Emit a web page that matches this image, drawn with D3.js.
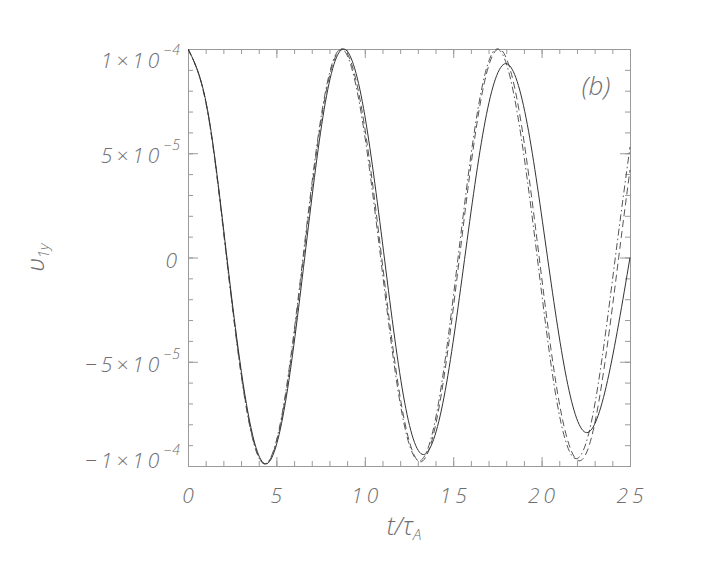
<!DOCTYPE html>
<html>
<head>
<meta charset="utf-8">
<script src="https://cdn.jsdelivr.net/npm/d3@7"></script>
<style>
  html, body { margin: 0; padding: 0; background: #fff; }
  svg { display: block; }
  .lbl { font-family: "Open Sans", "Roboto", "DejaVu Sans", sans-serif; font-style: italic; font-weight: 300; fill: #6e6e6e; }
</style>
</head>
<body>
<svg id="chart" width="708" height="566"></svg>
<script>
// ---- data (values in units of 1e-4) ----
const unit = 1e-4;
const xTicks = [0, 5, 10, 15, 20, 25];
const xTickLabels = ["0", "5", "10", "15", "20", "25"];
const yTicks = [1, 0.5, 0, -0.5, -1];
const yTickMain = ["1×10", "5×10", "0", "−5×10", "−1×10"];
const yTickExp = ["−4", "−5", "", "−5", "−4"];

// solid curve
const solidT = [0, 1.10, 2.20, 3.30, 4.40, 5.50, 6.60, 7.70, 8.80, 9.93, 11.06, 12.18, 13.31,
  14.48, 15.64, 16.81, 17.97, 19.12, 20.26, 21.41, 22.55, 23.73, 25.0];
const solidV = [1.0, 0.71, 0.0, -0.70, -0.99, -0.70, 0.0, 0.71, 1.0, 0.715, 0.03, -0.66, -0.945,
  -0.67, -0.01, 0.655, 0.93, 0.67, 0.045, -0.58, -0.84, -0.59, 0.0];

// dashed curve
const dashT = [0, 1.09, 2.18, 3.27, 4.36, 5.45, 6.54, 7.63, 8.72, 9.83, 10.94, 12.04, 13.15,
  14.26, 15.37, 16.47, 17.58, 18.715, 19.85, 20.985, 22.12, 23.24, 24.36, 25.0];
const dashV = [1.0, 0.71, 0.005, -0.70, -0.99, -0.70, 0.005, 0.71, 1.0, 0.71, 0.01, -0.69, -0.98,
  -0.69, 0.01, 0.71, 1.0, 0.71, 0.01, -0.69, -0.975, -0.69, 0.0, 0.42];

// dash-dot curve
const dotT = [0, 1.085, 2.17, 3.255, 4.34, 5.425, 6.51, 7.595, 8.68, 9.78, 10.88, 11.98, 13.08,
  14.185, 15.29, 16.395, 17.50, 18.61, 19.725, 20.84, 21.95, 23.06, 24.17, 25.0];
const dotV = [1.0, 0.71, 0.005, -0.70, -0.99, -0.70, 0.005, 0.71, 1.0, 0.70, 0.01, -0.69, -0.975,
  -0.69, 0.01, 0.71, 1.0, 0.70, 0.02, -0.68, -0.965, -0.68, 0.0, 0.53];

// ---- layout ----
const L = 188, R = 630, T = 49, B = 466;
const svg = d3.select("#chart");
const x = d3.scaleLinear().domain([0, 25]).range([L, R]);
const y = d3.scaleLinear().domain([-1e-4, 1e-4]).range([B, T]);

const axisColor = "#9a9a9a";
const xMinor = d3.range(0, 25.001, 1);
const yMinor = d3.range(-10, 10.001, 1).map(d => d * 1e-5);
const yMajor = yTicks.map(d => d * unit);

function styleAxis(g) {
  g.select(".domain").remove();
  g.selectAll("line").attr("stroke", axisColor).attr("stroke-width", 1);
  g.selectAll("text").remove();
}
// bottom
svg.append("g").attr("transform", `translate(0,${B})`).call(d3.axisBottom(x).tickValues(xMinor).tickSize(-5)).call(styleAxis);
svg.append("g").attr("transform", `translate(0,${B})`).call(d3.axisBottom(x).tickValues(xTicks).tickSize(-9)).call(styleAxis);
// top
svg.append("g").attr("transform", `translate(0,${T})`).call(d3.axisTop(x).tickValues(xMinor).tickSize(-5)).call(styleAxis);
svg.append("g").attr("transform", `translate(0,${T})`).call(d3.axisTop(x).tickValues(xTicks).tickSize(-9)).call(styleAxis);
// left
svg.append("g").attr("transform", `translate(${L},0)`).call(d3.axisLeft(y).tickValues(yMinor).tickSize(-5)).call(styleAxis);
svg.append("g").attr("transform", `translate(${L},0)`).call(d3.axisLeft(y).tickValues(yMajor).tickSize(-10)).call(styleAxis);
// right
svg.append("g").attr("transform", `translate(${R},0)`).call(d3.axisRight(y).tickValues(yMinor).tickSize(-5)).call(styleAxis);
svg.append("g").attr("transform", `translate(${R},0)`).call(d3.axisRight(y).tickValues(yMajor).tickSize(-10)).call(styleAxis);

// frame
svg.append("rect").attr("x", L + 0.5).attr("y", T + 0.5).attr("width", R - L).attr("height", B - T)
  .attr("fill", "none").attr("stroke", axisColor).attr("stroke-width", 1);

// ---- curves ----
const line = d3.line().x(d => x(d[0])).y(d => y(d[1] * unit)).curve(d3.curveNatural);
svg.append("clipPath").attr("id", "clip").append("rect")
  .attr("x", L).attr("y", T - 1).attr("width", R - L + 1).attr("height", B - T + 2);
const series = [
  { t: dashT, v: dashV, dash: "7,4", color: "#555" },
  { t: dotT, v: dotV, dash: "7,3,1.5,3", color: "#555" },
  { t: solidT, v: solidV, dash: null, color: "#333" }
];
series.forEach(s => {
  svg.append("path")
    .datum(s.t.map((t, i) => [t, s.v[i]]))
    .attr("d", line)
    .attr("fill", "none")
    .attr("stroke", s.color)
    .attr("stroke-width", 1)
    .attr("stroke-dasharray", s.dash)
    .attr("clip-path", "url(#clip)");
});

// ---- tick labels ----
const fs = 21;
xTicks.forEach((v, i) => {
  svg.append("text").attr("class", "lbl")
    .attr("x", x(v) + 2).attr("y", B + 37)
    .attr("text-anchor", "middle")
    .attr("font-size", fs).attr("letter-spacing", 4)
    .text(xTickLabels[i]);
});
const yOff = { "1": 9, "-1": -8 };
yTicks.forEach((v, i) => {
  const t = svg.append("text").attr("class", "lbl")
    .attr("x", 181).attr("y", y(v * unit) + 10 + (yOff[String(v)] || 0))
    .attr("text-anchor", "end")
    .attr("font-size", fs).attr("letter-spacing", 4);
  t.append("tspan").text(yTickMain[i]);
  if (yTickExp[i]) {
    t.append("tspan").attr("dy", -13).attr("font-size", 14).attr("letter-spacing", 1).text(yTickExp[i]);
  }
});

// ---- axis titles ----
const xt = svg.append("text").attr("class", "lbl")
  .attr("x", 404).attr("y", 535).attr("text-anchor", "middle").attr("font-size", 25);
xt.append("tspan").text("t/τ");
xt.append("tspan").attr("dy", 5).attr("font-size", 15).text("A");

const yt = svg.append("text").attr("class", "lbl")
  .attr("transform", `translate(44,${y(0)}) rotate(-90)`)
  .attr("text-anchor", "middle").attr("font-size", 25);
yt.append("tspan").attr("font-family", "'Noto Sans', 'DejaVu Sans'").attr("font-weight", 300).attr("font-size", 24).text("υ");
yt.append("tspan").attr("dy", 5).attr("font-size", 15).text("1y");

// panel label
svg.append("text").attr("class", "lbl")
  .attr("x", 596).attr("y", 95).attr("text-anchor", "middle")
  .attr("font-size", 26).text("(b)");
</script>
</body>
</html>
